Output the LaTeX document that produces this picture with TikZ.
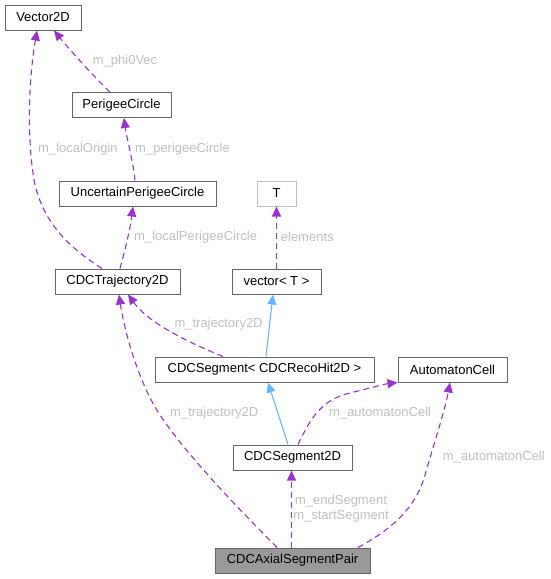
\documentclass[tikz,border=0pt]{standalone}
\usepackage{fontspec}
\setmainfont{Liberation Sans}
\usetikzlibrary{arrows.meta}
\definecolor{edgepurple}{HTML}{9A32CD}
\definecolor{edgeblue}{HTML}{63B8FF}
\definecolor{labelgray}{HTML}{C0C0C0}
\definecolor{boxgray}{HTML}{666666}
\definecolor{lightbox}{HTML}{BFBFBF}
\definecolor{pairfill}{HTML}{999999}
\tikzset{
  cls/.style={draw=boxgray, fill=white, line width=1pt, inner sep=0pt, minimum height=25pt, font=\fontsize{13}{15.3}\selectfont},
  dep/.style={draw=edgepurple, line width=1.1pt, dash pattern=on 6pt off 4pt, -{Triangle[length=10pt,width=9pt]}},
  inh/.style={draw=edgeblue, line width=1.1pt, -{Triangle[length=10pt,width=9pt]}},
  lbl/.style={text=labelgray, inner sep=0pt, anchor=west, font=\fontsize{13}{15.3}\selectfont},
}
\begin{document}
\begin{tikzpicture}[x=1pt,y=-1pt]
\useasboundingbox (0,0) rectangle (551,579);
% nodes
\node[cls, minimum width=76pt] (v2d) at (43,17.5) {Vector2D};
\node[cls, minimum width=99pt] (pc) at (121.5,105) {PerigeeCircle};
\node[cls, minimum width=157pt] (upc) at (137.5,193.5) {UncertainPerigeeCircle};
\node[cls, minimum width=125pt] (traj) at (117.5,281.5) {CDCTrajectory2D};
\node[cls, draw=lightbox, minimum width=39pt] (T) at (276.5,193.5) {T};
\node[cls, minimum width=89pt] (vec) at (276.5,281.5) {vector\textless{} T \textgreater};
\node[cls, minimum width=219pt] (seg) at (264.5,369.5) {CDCSegment\textless{} CDCRecoHit2D \textgreater};
\node[cls, minimum width=109pt] (ac) at (452.5,369.5) {AutomatonCell};
\node[cls, minimum width=119pt] (seg2d) at (292.5,457.5) {CDCSegment2D};
\node[cls, fill=pairfill, minimum width=155pt] (pair) at (292.5,560.5) {CDCAxialSegmentPair};
% edges
\draw[dep] ([xshift=-11.5pt]pc.north) .. controls (95,78) and (70,50) .. ([xshift=11pt]v2d.south);
\draw[dep] ([xshift=-15.5pt]traj.north) .. controls (70,248) and (45,225) .. (35,185) .. controls (28,150) and (27,90) .. ([xshift=-6pt]v2d.south);
\draw[dep] ([xshift=-2.5pt]upc.north) .. controls (133,160) and (127,140) .. ([xshift=2.5pt]pc.south);
\draw[dep] ([xshift=2.5pt]traj.north) .. controls (125,250) and (130,230) .. ([xshift=-4.5pt]upc.south);
\draw[dep] (vec.north) -- (T.south);
\draw[inh] ([xshift=1.5pt]seg.north) -- ([xshift=-3.5pt]vec.south);
\draw[dep] ([xshift=-41.5pt]seg.north) .. controls (195,345) and (150,325) .. ([xshift=10.5pt]traj.south);
\draw[inh] ([xshift=-4.5pt]seg2d.north) -- ([xshift=3.5pt]seg.south);
\draw[dep] ([xshift=5.5pt]seg2d.north) .. controls (310,420) and (320,400) .. (350,393) .. controls (370,388) and (385,384) .. (ac.south west);
\draw[dep] ([xshift=-15.5pt]pair.north) .. controls (250,520) and (190,460) .. (160,415) .. controls (140,385) and (125,335) .. ([xshift=1.5pt]traj.south);
\draw[dep] ([xshift=-1pt]pair.north) -- ([xshift=-1pt]seg2d.south);
\draw[dep] ([xshift=65.5pt]pair.north) .. controls (390,530) and (415,510) .. (425,475) .. controls (435,440) and (445,410) .. ([xshift=-2.5pt]ac.south);
% labels
\node[lbl] (l1) at (92.7,61) {m\_phi0Vec};
\node[lbl] (l2) at (38,149) {m\_localOrigin};
\node[lbl] (l3) at (135,149) {m\_perigeeCircle};
\node[lbl] (l4) at (134,237) {m\_localPerigeeCircle};
\node[lbl] (l5) at (280.7,236.7) {elements};
\node[lbl] (l6) at (174.3,324.3) {m\_trajectory2D};
\node[lbl] (l7) at (329,412.7) {m\_automatonCell};
\node[lbl] (l8) at (170,413.3) {m\_trajectory2D};
\node[lbl, anchor=center, align=center] (l9) at (341,508.3) {m\_endSegment\\m\_startSegment};
\node[lbl] (l10) at (442.7,456.7) {m\_automatonCell};
\end{tikzpicture}
\end{document}
